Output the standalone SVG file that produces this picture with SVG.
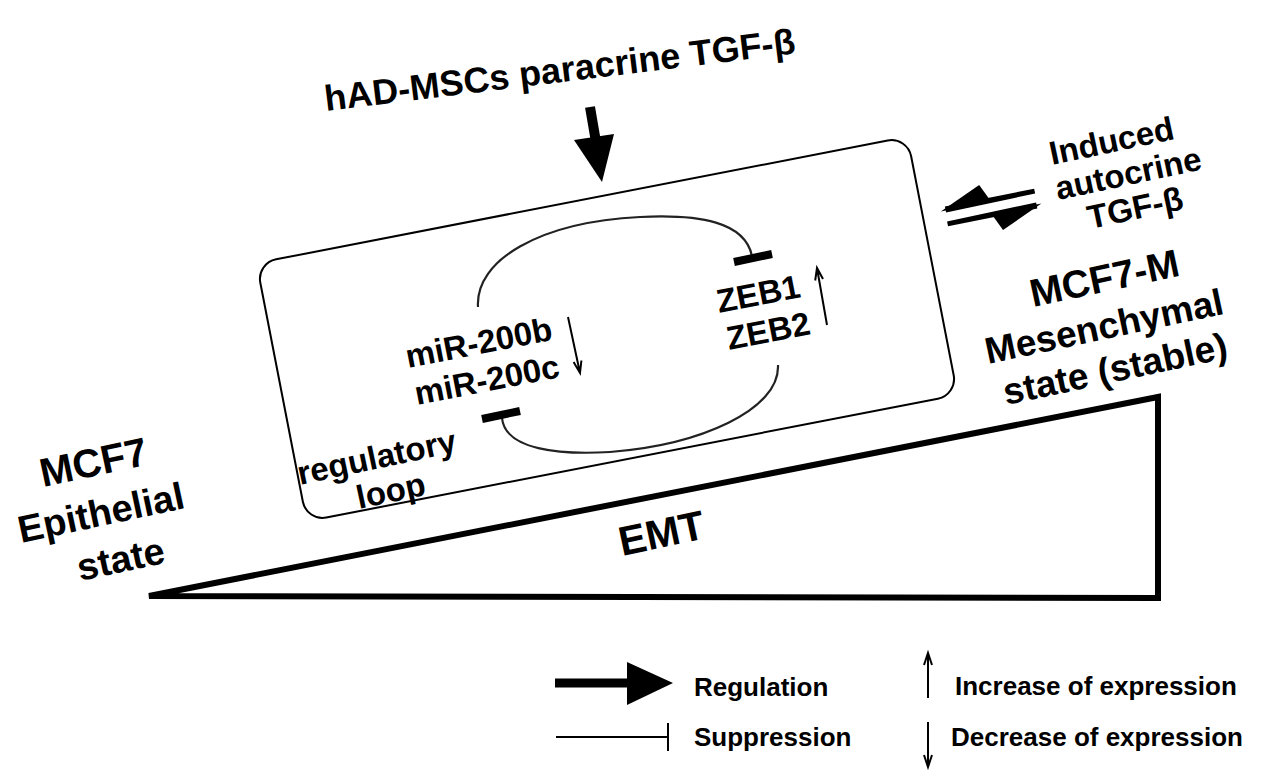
<svg xmlns="http://www.w3.org/2000/svg" width="1272" height="778" viewBox="0 0 1272 778">
<style>
text{font-family:"Liberation Sans",Arial,sans-serif;font-weight:bold;fill:#000}
.leg{font-size:26px}
.thin{fill:none;stroke:#000;stroke-width:2}
.arc{fill:none;stroke:#222;stroke-width:2.2}
.bar{stroke:#000;stroke-width:8}
.box{fill:none;stroke:#000;stroke-width:2}
</style>
<rect width="1272" height="778" fill="#fff"/>
<g id="title"><text x="326" y="111" font-size="36" transform="rotate(-7 326 111)">hAD-MSCs paracrine TGF-β</text></g>
<g id="cell-box"><rect class="box" x="275.5" y="197.5" width="663" height="263" rx="20" transform="rotate(-11 607 329)"/></g>
<g id="mir200">
<text x="408" y="368" font-size="33" transform="rotate(-11 408 368)">miR-200b</text>
<text x="417" y="405" font-size="33" transform="rotate(-11 417 405)">miR-200c</text>
<path class="thin" d="M568,317 L580,373 M581.4,360.5 L580,373 L573.6,362.1"/>
</g>
<g id="zeb">
<text x="719" y="313" font-size="33" transform="rotate(-11 719 313)">ZEB1</text>
<text x="729" y="350" font-size="33" transform="rotate(-11 729 350)">ZEB2</text>
<path class="thin" d="M827,325 L817,268 M823,279.1 L817,268 L815.2,280.5"/>
</g>
<g id="loop-label">
<text x="300" y="485" font-size="33" transform="rotate(-12 300 485)">regulatory</text>
<text x="359" y="509" font-size="33" transform="rotate(-12 359 509)">loop</text>
</g>
<g id="autocrine">
<text x="1052" y="165" font-size="33" transform="rotate(-12 1052 165)">Induced</text>
<text x="1058" y="200" font-size="33" transform="rotate(-12 1058 200)">autocrine</text>
<text x="1090" y="229" font-size="33" transform="rotate(-12 1090 229)">TGF-β</text>
</g>
<g id="mcf7m">
<text x="1033" y="307" font-size="39" transform="rotate(-12 1033 307)">MCF7-M</text>
<text x="988" y="364" font-size="37" transform="rotate(-12 988 364)">Mesenchymal</text>
<text x="1006" y="405" font-size="37" transform="rotate(-12 1006 405)">state (stable)</text>
</g>
<g id="mcf7">
<text x="43" y="487" font-size="40" transform="rotate(-12 43 487)">MCF7</text>
<text x="21" y="543" font-size="38" transform="rotate(-12 21 543)">Epithelial</text>
<text x="80" y="581" font-size="38" transform="rotate(-12 80 581)">state</text>
</g>
<g id="emt">
<path d="M149,596 L1158,397 L1158,598 Z" fill="none" stroke="#000" stroke-width="6" stroke-linejoin="miter" stroke-miterlimit="4"/>
<text x="622" y="556" font-size="41" transform="rotate(-12 622 556)">EMT</text>
</g>
<g id="connectors">
<line x1="590" y1="107" x2="596" y2="142" stroke="#000" stroke-width="10"/>
<polygon points="574,140 614,134 602,182" fill="#000"/>
<path class="arc" d="M478,307 C475,260 540,222 640,217 C700,214 745,222 752,256"/>
<line class="bar" x1="734" y1="262" x2="772" y2="254"/>
<path class="arc" d="M502,418 C505,450 560,455 610,452 C700,445 780,410 778,365"/>
<line class="bar" x1="482" y1="419" x2="520" y2="411"/>
<g transform="rotate(-12 991 207)">
<polygon points="946,197 1037,198 1037,203 946,203" fill="#000"/>
<polygon points="941,201 984,183 992,201" fill="#000"/>
<polygon points="945,212 1036,212 1036,218 945,217" fill="#000"/>
<polygon points="1041,214 998,232 990,214" fill="#000"/>
</g>
</g>
<g id="legend">
<line x1="555" y1="683" x2="632" y2="683" stroke="#000" stroke-width="9"/>
<polygon points="627,662 673,683 627,705" fill="#000"/>
<text class="leg" x="694" y="696">Regulation</text>
<path class="thin" d="M556,737 L668,737 M668,723 L668,751"/>
<text class="leg" x="694" y="746">Suppression</text>
<path class="thin" d="M928,698 L928,653 M924,665 L928,653 L932,665"/>
<text class="leg" x="955" y="695">Increase of expression</text>
<path class="thin" d="M928,722 L928,767 M924,755 L928,767 L932,755"/>
<text class="leg" x="951" y="746">Decrease of expression</text>
</g>
</svg>
